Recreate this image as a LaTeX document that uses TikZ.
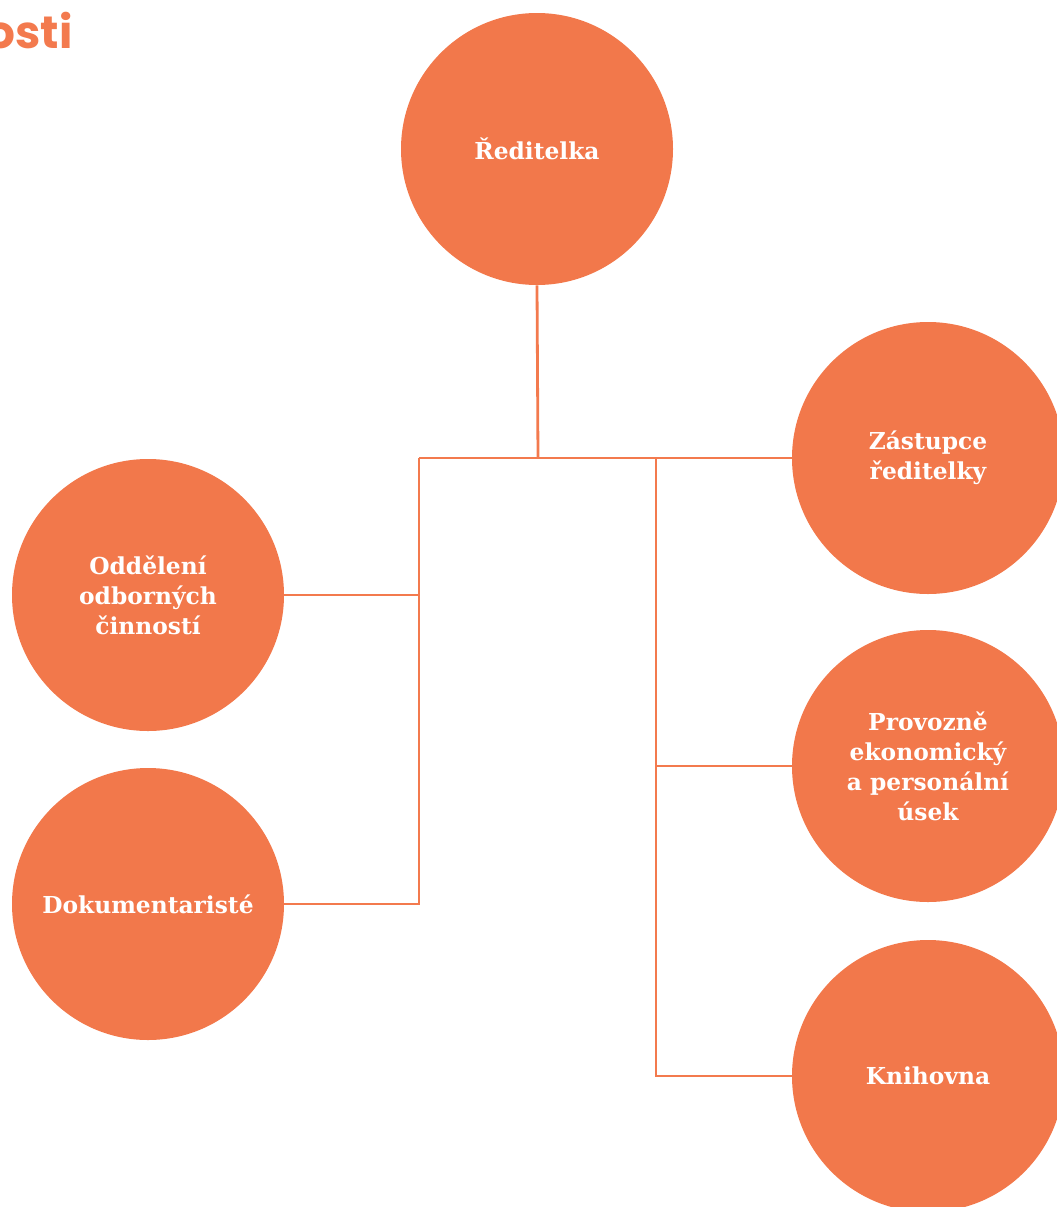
\documentclass[tikz,border=0pt]{standalone}
\usepackage{fontspec}
\setmainfont{DejaVu Serif}
\newfontfamily\titlefont{Poppins}
\definecolor{org}{RGB}{242,120,75}
\definecolor{orgline}{RGB}{243,122,78}
\begin{document}
\begin{tikzpicture}[x=0.75pt,y=-0.75pt,
  unit/.style={circle,fill=org,draw=none,minimum size=204pt,inner sep=0pt,
    text=white,font=\fontsize{17.5}{22.5}\selectfont\bfseries,align=center},
  conn/.style={draw=orgline,line width=2.1pt}]
\useasboundingbox (0,0) rectangle (1057,1207);
\clip (0,0) rectangle (1057,1207);
\node[anchor=base east,text=orgline,font=\titlefont\fontsize{34}{40}\selectfont\bfseries,inner sep=0pt] (title) at (73,48) {osti};
\node[unit] (r) at (537,149) {Ředitelka};
\node[unit] (z) at (928,458) {Zástupce\\ředitelky};
\node[unit] (o) at (148,595) {Oddělení\\odborných\\činností};
\node[unit] (d) at (148,904) {Dokumentaristé};
\node[unit] (p) at (928,766) {Provozně\\ekonomický\\a personální\\úsek};
\node[unit] (k) at (928,1076) {Knihovna};
\coordinate (j) at (538,458);
\coordinate (L1) at (419,458);
\coordinate (R1) at (656,458);
\draw[conn] (r.south) -- (j);
\draw[conn] (L1) -- (z.west);
\draw[conn] (L1) |- (d.east);
\draw[conn] (o.east) -- (o.east -| L1);
\draw[conn] (R1) |- (k.west);
\draw[conn] (p.west) -- (p.west -| R1);
\end{tikzpicture}
\end{document}
